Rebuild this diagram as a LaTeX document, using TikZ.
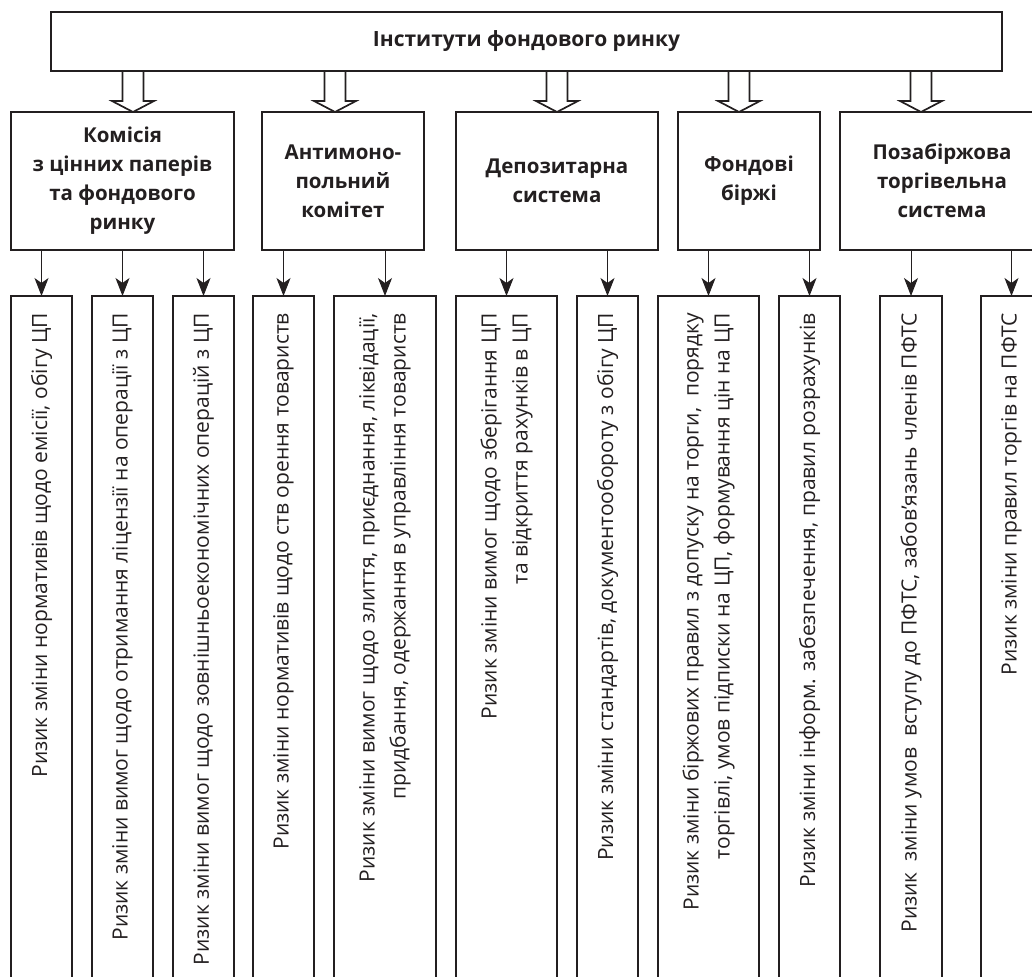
\documentclass[tikz,border=0pt]{standalone}
\usepackage{fontspec}
\setmainfont{Open Sans}
\usetikzlibrary{arrows.meta,calc}
\definecolor{ink}{RGB}{35,31,32}
\begin{document}
\begin{tikzpicture}[x=1pt,y=-1pt,
  box/.style={draw=ink, line width=1.7pt, inner sep=0pt, outer sep=0pt, rectangle},
  head/.style={font=\bfseries\fontsize{20.5}{29}\selectfont, align=center, text=ink},
  title/.style={font=\bfseries\fontsize{21}{29}\selectfont, align=center, text=ink},
  rtext/.style={rotate=90, anchor=east, inner sep=0pt, font=\fontsize{21}{31}\selectfont, align=right, text=ink},
  conn/.style={draw=ink, line width=1pt, -{Stealth[length=18pt,width=14pt,inset=5pt]}},
  hollow/.style={draw=ink, line width=1.7pt, line join=miter}
]
\useasboundingbox (0,0) rectangle (1032,976);
\clip (0,0) rectangle (1032,976);

% top
\node[box, title, minimum width=951pt, minimum height=59pt] (top) at (526.5,41.5) {Інститути фондового ринку};

% level 2
\node[box, head, minimum width=223pt, minimum height=138pt] (k1) at (122.5,181) {Комісія\\з цінних паперів\\та фондового\\ринку};
\node[box, head, minimum width=162pt, minimum height=138pt] (k2) at (343,181) {Антимоно-\\польний\\комітет};
\node[box, head, minimum width=202pt, minimum height=138pt] (k3) at (557,181) {Депозитарна\\система};
\node[box, head, minimum width=142pt, minimum height=138pt] (k4) at (749,181) {Фондові\\біржі};
\node[box, head, minimum width=204pt, minimum height=138pt] (k5) at (942,181) {Позабіржова\\торгівельна\\система};

% hollow arrows
\foreach \x/\k in {133/k1, 335/k2, 557/k3, 739/k4, 921/k5} {
  \path (top.south -| \x,0) coordinate (s);
  \draw[hollow] ($(s)+(-10.5,0)$) -- ($(s |- \k.north)+(-10.5,-11)$) -- ++(-10.5,0) -- (s |- \k.north)
     -- ($(s |- \k.north)+(21,-11)$) -- ++(-10.5,0) -- ($(s)+(10.5,0)$);
}
\draw[draw=ink, line width=1.7pt] (top.south west) -- (top.south east);

% level 3 boxes
\foreach \n/\cx/\w in {b1/41.5/61, b2/122.5/61, b3/203.5/61, b4/283.5/61, b5/385/102, b6/506.5/101,
                       b7/607.5/61, b8/708.5/101, b9/809.5/61, b10/911/62, b11/1011.5/61} {
  \node[box, minimum width=\w pt, minimum height=704pt] (\n) at (\cx,648) {};
}

% connectors
\foreach \k/\b in {k1/b1, k1/b2, k1/b3, k2/b4, k2/b5, k3/b6, k3/b7, k4/b8, k4/b9, k5/b10, k5/b11} {
  \draw[conn] (\k.south -| \b.north) -- (\b.north);
}

% rotated texts
\node[rtext] (t1) at ($(b1.north)+(0,17)$) {Ризик зміни нормативів щодо емісії, обігу ЦП};
\node[rtext] (t2) at ($(b2.north)+(0,17)$) {Ризик зміни вимог щодо отримання ліцензії на операції з ЦП};
\node[rtext] (t3) at ($(b3.north)+(0,17)$) {Ризик зміни вимог щодо зовнішньоекономічних операцій з ЦП};
\node[rtext] (t4) at ($(b4.north)+(0,17)$) {Ризик зміни нормативів щодо ств орення товариств};
\node[rtext] (t5) at ($(b5.north)+(0,17)$) {Ризик зміни вимог щодо злиття, приєднання, ліквідації,\\придбання, одержання в управління товариств};
\node[rtext] (t6) at ($(b6.north)+(0,17)$) {Ризик зміни вимог щодо зберігання ЦП\\та відкриття рахунків в ЦП};
\node[rtext] (t7) at ($(b7.north)+(0,17)$) {Ризик зміни стандартів, документообороту з обігу ЦП};
\node[rtext] (t8) at ($(b8.north)+(0,17)$) {Ризик зміни біржових правил з допуску на торги,\ \ порядку\\торгівлі, умов підписки на ЦП, формування цін на ЦП};
\node[rtext] (t9) at ($(b9.north)+(0,17)$) {Ризик зміни інформ. забезпечення, правил розрахунків};
\node[rtext] (t10) at ($(b10.north)+(0,17)$) {Ризик\ \ зміни умов\ \ вступу до ПФТС, забов’язань членів ПФТС};
\node[rtext] (t11) at ($(b11.north)+(0,17)$) {Ризик зміни правил торгів на ПФТС};
\end{tikzpicture}
\end{document}
